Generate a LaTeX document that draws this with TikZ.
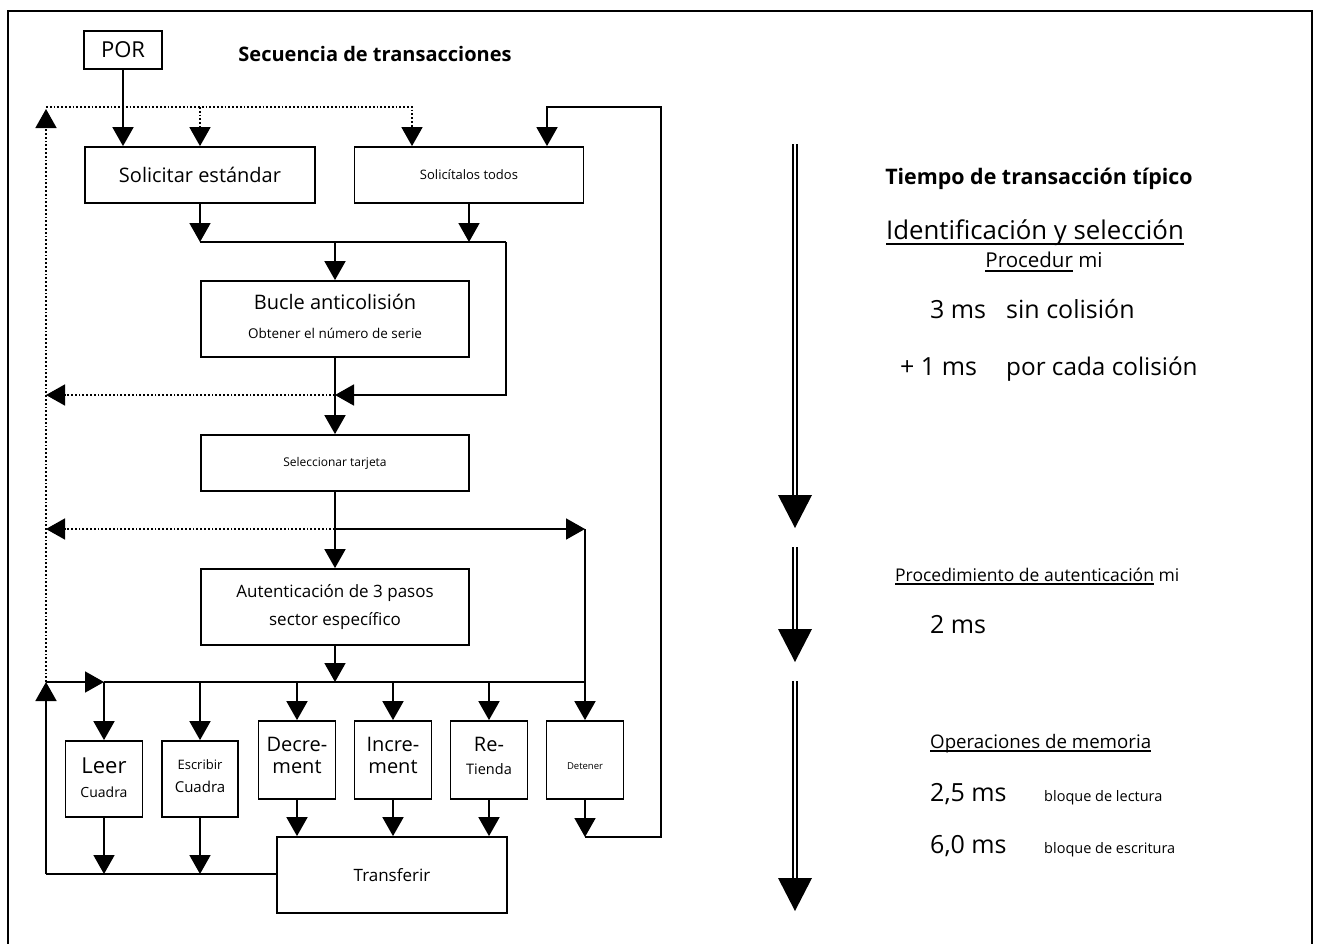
\documentclass[tikz,border=0pt]{standalone}
\usepackage{fontspec}
\setmainfont{Open Sans}
\usetikzlibrary{arrows.meta, calc}

\newsavebox{\undlbox}
\newcommand{\undl}[2][-5pt]{\sbox{\undlbox}{#2}\rlap{\rule[#1]{\wd\undlbox}{1.6pt}}\usebox{\undlbox}}

\begin{document}
\begin{tikzpicture}[x=1pt, y=-1pt,
  box/.style={draw, line width=1.8pt, inner sep=0pt, align=center},
  wire/.style={line width=1.8pt},
  flow/.style={wire, -{Triangle[length=19pt, width=21pt]}},
  ret/.style={line width=1.6pt, dash pattern=on 1.8pt off 2pt, -{Triangle[length=19pt, width=21pt]}},
  lbl/.style={inner sep=0pt, anchor=base west},
  timeline/.style={double, line width=1.6pt, double distance=2.6pt}]
  \useasboundingbox (0,0) rectangle (1318,943);
  \draw[wire] (8,960) -- (8,11) -- (1312,11) -- (1312,960);

  % left: flow of transactions
  \node[box, minimum width=78pt, minimum height=38pt, font=\fontsize{22}{26}\selectfont] (por) at (123,50) {POR};
  \node[inner sep=0pt, anchor=base, font=\fontsize{20}{24}\selectfont\bfseries] (seq) at (375,61) {Secuencia de transacciones};
  \node[box, minimum width=230pt, minimum height=56pt, font=\fontsize{20}{24}\selectfont] (solstd) at (200,175) {Solicitar estándar};
  \node[box, minimum width=229pt, minimum height=56pt, font=\fontsize{13}{16}\selectfont] (soltodos) at (469,175) {Solicítalos todos};
  \node[box, minimum width=268pt, minimum height=76pt, font=\fontsize{20}{29}\selectfont, text depth=5pt] (bucle) at (335,319) {Bucle anticolisión\\{\fontsize{13.5}{16}\selectfont Obtener el número de serie}};
  \node[box, minimum width=268pt, minimum height=56pt, font=\fontsize{12}{15}\selectfont] (selec) at (335,463) {Seleccionar tarjeta};
  \node[box, minimum width=268pt, minimum height=76pt, font=\fontsize{17}{28}\selectfont] (auth) at (335,607) {Autenticación de 3 pasos\\sector específico};
  \node[box, minimum width=77pt, minimum height=76pt, font=\fontsize{22}{29}\selectfont, text depth=3pt] (leer) at (104,779) {Leer\\[-5pt]{\fontsize{14}{17}\selectfont Cuadra}};
  \node[box, minimum width=76pt, minimum height=76pt, font=\fontsize{13}{23}\selectfont, text depth=6pt] (escr) at (200,779) {Escribir\\{\fontsize{15}{18}\selectfont Cuadra}};
  \node[box, minimum width=77pt, minimum height=78pt, font=\fontsize{20}{22}\selectfont, text depth=10pt] (decr) at (297,760) {Decre-\\ment};
  \node[box, minimum width=77pt, minimum height=78pt, font=\fontsize{20}{22}\selectfont, text depth=10pt] (incr) at (393,760) {Incre-\\ment};
  \node[box, minimum width=77pt, minimum height=78pt, font=\fontsize{20}{23}\selectfont, text depth=9pt] (rest) at (489,760) {Re-\\{\fontsize{14.5}{17}\selectfont Tienda}};
  \node[box, minimum width=77pt, minimum height=78pt, font=\fontsize{9.5}{11}\selectfont, text height=19pt] (deten) at (585,760) {Detener};
  \node[box, minimum width=230pt, minimum height=76pt, font=\fontsize{17}{20}\selectfont] (transf) at (392,875) {Transferir};

  \coordinate (tl) at (46,107);
  \coordinate (tj) at (200,107);
  \coordinate (tr) at (412,107);
  \coordinate (rt) at (547,107);
  \coordinate (rc) at (661,107);
  \coordinate (rb) at (661,837);
  \coordinate (db) at (585,837);
  \coordinate (b1l) at (200,242);
  \coordinate (b1m) at (335,242);
  \coordinate (b1r) at (506,242);
  \coordinate (j1) at (335,395);
  \coordinate (j1r) at (506,395);
  \coordinate (l1) at (46,395);
  \coordinate (j2) at (335,529);
  \coordinate (j2r) at (585,529);
  \coordinate (l2) at (46,529);
  \coordinate (b2l) at (46,682);
  \coordinate (b2a) at (104,682);
  \coordinate (b2r) at (585,682);
  \coordinate (bl) at (46,874);

  % dotted return paths
  \draw[ret] (b2l) -- (46,109);
  \draw[ret] (tl) -- (tr) -- (tr |- soltodos.north);
  \draw[ret] (tj) -- (tj |- solstd.north);
  \draw[ret] (j1) -- (l1);
  \draw[ret] (j2) -- (l2);

  \draw[flow] (por.south) -- (por.south |- solstd.north);
  \draw[flow] (solstd.south) -- (b1l);
  \draw[flow] (soltodos.south) -- (soltodos.south |- b1l);
  \draw[wire] (b1l) -- (b1r);
  \draw[flow] (b1r) -- (j1r) -- (j1);
  \draw[flow] (b1m) -- (bucle.north);
  \draw[flow] (bucle.south) -- (selec.north);
  \draw[flow] (selec.south) -- (auth.north);
  \draw[flow] (j2) -- (j2r);
  \draw[flow] (j2r) -- (deten.north);
  \draw[flow] (auth.south) -- (auth.south |- b2a);
  \draw[flow] (bl) -- (b2l);
  \draw[flow] (b2l) -- (b2a);
  \draw[wire] (b2a) -- (b2r);
  \foreach \n in {leer, escr, decr, incr, rest}
    \draw[flow] (\n.north |- b2a) -- (\n.north);
  \foreach \n in {leer, escr}
    \draw[flow] (\n.south) -- (\n.south |- bl);
  \draw[wire] (bl) -- (transf.west |- bl);
  \foreach \n in {decr, incr, rest}
    \draw[flow] (\n.south) -- (\n.south |- transf.north);
  \draw[flow] (deten.south) -- (db);
  \draw[flow] (db) -- (rb) -- (rc) -- (rt) -- (rt |- soltodos.north);

  % right: typical timing
  \foreach \ys/\ye in {144/495, 547/629, 681/878} {
    \draw[timeline] (795,\ys) -- (795,\ye);
    \fill (778,\ye) -- (812,\ye) -- (795,\ye+33) -- cycle;
  }
  \node[inner sep=0pt, anchor=base, font=\fontsize{21.4}{25}\selectfont\bfseries] (tiempo) at (1039,184) {Tiempo de transacción típico};
  \node[inner sep=0pt, anchor=base, font=\fontsize{25.8}{30}\selectfont] (ident) at (1035,239) {\undl[-5.8pt]{Identificación y selección}};
  \node[inner sep=0pt, anchor=base, font=\fontsize{20.5}{24}\selectfont] (proc) at (1044,267) {\undl[-4.8pt]{Procedur} mi};
  \node[lbl, font=\fontsize{25}{30}\selectfont] (t3) at (930,318) {3 ms};
  \node[lbl, font=\fontsize{25}{30}\selectfont] (sinc) at (1006,318) {sin colisión};
  \node[lbl, font=\fontsize{25}{30}\selectfont] (t1) at (900,375) {+ 1 ms};
  \node[lbl, font=\fontsize{24.3}{30}\selectfont] (porc) at (1006,375) {por cada colisión};
  \node[lbl, font=\fontsize{17.5}{20}\selectfont] (procaut) at (895,581) {\undl[-3.6pt]{Procedimiento de autenticación} mi};
  \node[lbl, font=\fontsize{25}{30}\selectfont] (t2) at (930,633) {2 ms};
  \node[lbl, font=\fontsize{18.7}{22}\selectfont] (memop) at (930,748) {\undl[-3.6pt]{Operaciones de memoria}};
  \node[lbl, font=\fontsize{25}{30}\selectfont] (t25) at (930,801) {2,5 ms};
  \node[lbl, font=\fontsize{14.5}{17}\selectfont] (lect) at (1044,801) {bloque de lectura};
  \node[lbl, font=\fontsize{25}{30}\selectfont] (t60) at (930,853) {6,0 ms};
  \node[lbl, font=\fontsize{14.5}{17}\selectfont] (escrit) at (1044,853) {bloque de escritura};
\end{tikzpicture}
\end{document}
